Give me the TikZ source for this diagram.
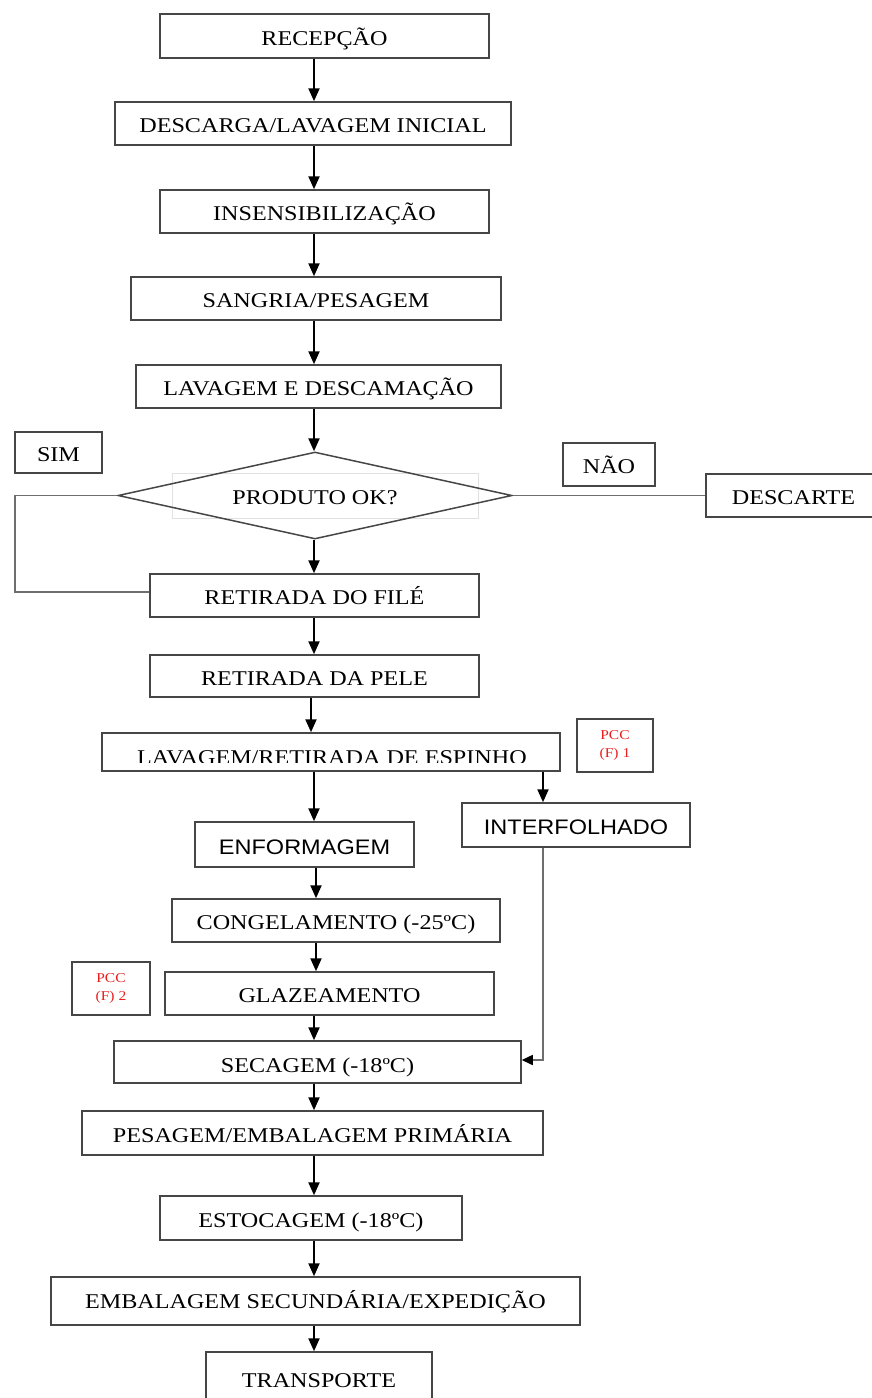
\documentclass[tikz,border=0pt]{standalone}
\usepackage{fontspec}
\setmainfont{Liberation Serif}[FakeStretch=1.15]
\setsansfont{Liberation Sans}[FakeStretch=1.12]
\usetikzlibrary{arrows.meta,shapes.geometric}

\definecolor{boxgray}{RGB}{70,70,70}
\definecolor{linegray}{RGB}{110,110,110}
\definecolor{faintgray}{RGB}{225,225,225}
\definecolor{pccred}{RGB}{235,30,30}

\tikzset{
  stepbox/.style={draw=boxgray, line width=1.5pt, inner sep=0pt, fill=white,
    font=\fontsize{21}{25}\selectfont, text height=18.9pt, text depth=0pt},
  sansbox/.style={stepbox, font=\sffamily\fontsize{21}{25}\selectfont, text height=19.5pt},
  tagbox/.style={stepbox, font=\fontsize{21}{25}\selectfont},
  pccbox/.style={draw=boxgray, line width=1.5pt, inner sep=0pt, align=center,
    text=pccred, font=\fontsize{13.5}{18}\selectfont},
  decision/.style={diamond, draw=boxgray, line width=1.5pt, inner sep=0pt,
    aspect=4.53, font=\fontsize{21}{25}\selectfont, text height=17pt, text depth=0pt},
  flow/.style={-{Triangle[length=13pt,width=11pt]}, line width=2.2pt, black},
  link/.style={draw=linegray, line width=1.5pt},
}

\begin{document}
\begin{tikzpicture}[x=1pt, y=-1pt]
\useasboundingbox (0,0) rectangle (871,1398);

% arrow columns
\coordinate (spine) at (314,0);
\coordinate (spineB) at (316,0);
\coordinate (spineC) at (311,0);
\coordinate (rcol) at (543,0);
\coordinate (lcol) at (15,0);

% main steps
\node[stepbox, minimum width=329pt, minimum height=44pt] (rec) at (324.5,36) {RECEPÇÃO};
\node[stepbox, minimum width=396pt, minimum height=43pt] (desc) at (313,123.5) {DESCARGA/LAVAGEM INICIAL};
\node[stepbox, minimum width=329pt, minimum height=43pt] (ins) at (324.5,211.5) {INSENSIBILIZAÇÃO};
\node[stepbox, minimum width=370pt, minimum height=43pt] (sang) at (316,298.5) {SANGRIA/PESAGEM};
\node[stepbox, minimum width=365pt, minimum height=43pt] (lavd) at (318.5,386.5) {LAVAGEM E DESCAMAÇÃO};

% decision
\draw[faintgray, line width=0.8pt] (172,473) rectangle (478,518);
\node[decision, minimum width=394pt, minimum height=87pt] (dia) at (315,495.5) {PRODUTO OK?};
\node[tagbox, minimum width=87pt, minimum height=41pt] (sim) at (58.5,452.5) {SIM};
\node[tagbox, minimum width=92pt, minimum height=43pt] (nao) at (609,464.5) {NÃO};
\node[stepbox, minimum width=175pt, minimum height=43pt] (descarte) at (793.5,495.5) {DESCARTE};

\node[stepbox, minimum width=329pt, minimum height=43pt] (filet) at (314.5,595.5) {RETIRADA DO FILÉ};
\node[stepbox, minimum width=329pt, minimum height=42pt] (pele) at (314.5,676) {RETIRADA DA PELE};

% washing / bone removal, its label cut by the lower edge
\node[stepbox, minimum width=458pt, minimum height=38pt] (lave) at (331,752) {};
\begin{scope}
  \clip (104,734) rectangle (558,762);
  \node[anchor=base, inner sep=0pt, font=\fontsize{21}{25}\selectfont] (lavetxt) at (332,764) {LAVAGEM/RETIRADA DE ESPINHO};
\end{scope}
\node[pccbox, minimum width=76pt, minimum height=53pt] (pcc1) at (615,745.5) {PCC\\(F) 1};

\node[sansbox, minimum width=219pt, minimum height=45pt] (enf) at (304.5,844.5) {ENFORMAGEM};
\node[sansbox, minimum width=228pt, minimum height=44pt] (inter) at (576,825) {INTERFOLHADO};

\node[stepbox, minimum width=328pt, minimum height=43pt] (cong) at (336,920.5) {CONGELAMENTO (-25ºC)};
\node[stepbox, minimum width=329pt, minimum height=43pt] (glaz) at (329.5,993.5) {GLAZEAMENTO};
\node[pccbox, minimum width=78pt, minimum height=53pt] (pcc2) at (111,988.5) {PCC\\(F) 2};
\node[stepbox, minimum width=407pt, minimum height=42pt, text height=20pt] (sec) at (317.5,1062) {SECAGEM (-18ºC)};
\node[stepbox, minimum width=461pt, minimum height=44pt] (pes) at (312.5,1133) {PESAGEM/EMBALAGEM PRIMÁRIA};
\node[stepbox, minimum width=302pt, minimum height=44pt] (est) at (311,1218) {ESTOCAGEM (-18ºC)};
\node[stepbox, minimum width=529pt, minimum height=48pt, text height=14pt] (emb) at (315.5,1301) {EMBALAGEM SECUNDÁRIA/EXPEDIÇÃO};
\node[stepbox, minimum width=226pt, minimum height=58pt, text height=12pt] (trans) at (319,1381) {TRANSPORTE};

% main flow
\draw[flow] (rec.south -| spine) -- (desc.north -| spine);
\draw[flow] (desc.south -| spine) -- (ins.north -| spine);
\draw[flow] (ins.south -| spine) -- (sang.north -| spine);
\draw[flow] (sang.south -| spine) -- (lavd.north -| spine);
\draw[flow] (lavd.south -| spine) -- (dia.north -| spine);
\draw[flow] (dia.south -| spine) -- (filet.north -| spine);
\draw[flow] (filet.south -| spine) -- (pele.north -| spine);
\draw[flow] (pele.south -| spineC) -- (lave.north -| spineC);
\draw[flow] (lave.south -| spine) -- (enf.north -| spine);
\draw[flow] (lave.south -| rcol) -- (inter.north -| rcol);
\draw[flow] (enf.south -| spineB) -- (cong.north -| spineB);
\draw[flow] (cong.south -| spineB) -- (glaz.north -| spineB);
\draw[flow] (glaz.south -| spine) -- (sec.north -| spine);
\draw[flow] (sec.south -| spine) -- (pes.north -| spine);
\draw[flow] (pes.south -| spine) -- (est.north -| spine);
\draw[flow] (est.south -| spine) -- (emb.north -| spine);
\draw[flow] (emb.south -| spine) -- (trans.north -| spine);

% decision branches
\draw[link] (dia.west) -- (dia.west -| lcol) -- ([yshift=3.5pt]filet.west -| lcol) -- ([yshift=3.5pt]filet.west);
\draw[link] (dia.east) -- (descarte.west);

% interleaved fillets rejoin at drying
\draw[link, -{Triangle[length=11pt,width=10pt,color=black]}] (inter.south -| rcol) |- ([yshift=2pt]sec.east);
\end{tikzpicture}
\end{document}
